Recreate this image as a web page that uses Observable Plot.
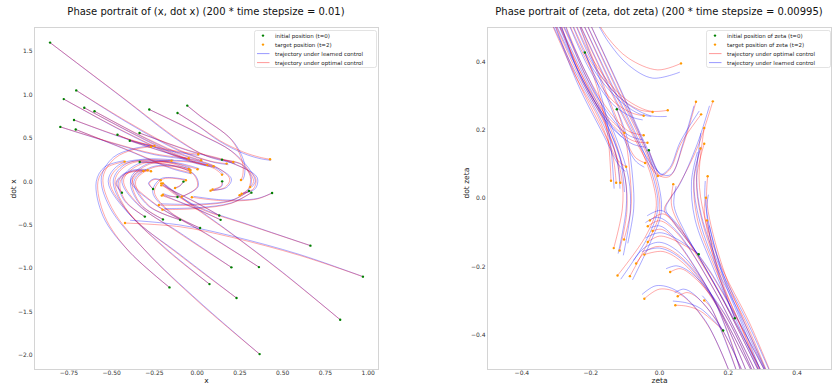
<!DOCTYPE html>
<html><head><meta charset="utf-8">
<script src="https://cdn.jsdelivr.net/npm/d3@7"></script>
<script src="https://cdn.jsdelivr.net/npm/@observablehq/plot@0.6"></script>
<style>
body{margin:0;background:#fff;font-family:"DejaVu Sans",sans-serif;}
#root{position:relative;width:832px;height:385px;overflow:hidden;background:#fff;}
.title{position:absolute;top:6px;font-size:10px;line-height:12px;color:#111;white-space:nowrap;transform:translateX(-50%);}
.chart{position:absolute;top:0;}
.legend{position:absolute;}
</style></head><body><div id="root"></div>
<script>
// ---------- left panel: (x, dot x) ----------
const leftXTicks = [-0.75,-0.5,-0.25,0,0.25,0.5,0.75,1.0];
const leftYTicks = [-2.0,-1.5,-1.0,-0.5,0.0,0.5,1.0,1.5];
const leftOptimal = [
[[-0.86,1.60],[-0.45,0.99],[-0.1,0.47],[0.05,0.30],[0.211,0.226]],
[[-0.707,1.05],[-0.4,0.68],[-0.1,0.36],[0.08,0.235],[0.172,0.207]],
[[-0.78,0.95],[-0.45,0.6],[-0.15,0.32],[0.0,0.215],[0.096,0.176]],
[[-0.66,0.85],[-0.4,0.58],[-0.15,0.34],[-0.02,0.235],[0.059,0.19]],
[[-0.60,0.81],[-0.35,0.55],[-0.12,0.34],[0.023,0.245]],
[[-0.72,0.71],[-0.45,0.52],[-0.2,0.38],[0.006,0.315]],
[[-0.80,0.63],[-0.5,0.45],[-0.25,0.32],[-0.05,0.268]],
[[-0.71,0.60],[-0.4,0.36],[-0.15,0.16],[-0.039,0.104]],
[[-0.466,0.54],[-0.37,0.465],[-0.25,0.41]],
[[-0.337,0.56],[-0.05,0.36],[0.2,0.22],[0.34,0.05],[0.33,-0.08],[0.26,-0.14]],
[[-0.394,0.47],[-0.12,0.3],[0.1,0.18],[0.19,0.03],[0.16,-0.07],[0.078,-0.104]],
[[-0.28,0.83],[0.016,0.55],[0.2,0.35],[0.3,0.13],[0.33,0.0],[0.31,-0.062]],
[[-0.115,0.79],[0.016,0.63],[0.13,0.475],[0.27,0.34],[0.367,0.28],[0.426,0.257]],
[[-0.058,0.875],[0.016,0.76],[0.2,0.48],[0.265,0.22],[0.266,0.07],[0.256,0.018]],
[[-0.336,0.226],[-0.15,0.19],[-0.02,0.08],[0.0,-0.06],[-0.09,-0.173]],
[[-0.44,-0.127],[-0.47,-0.02],[-0.42,0.09],[-0.314,0.122]],
[[-0.258,-0.085],[-0.28,-0.02],[-0.25,0.025],[-0.213,0.015]],
[[-0.08,0.0],[-0.1,-0.045],[-0.129,-0.073]],
[[0.145,0.253],[0.26,0.2],[0.31,0.06],[0.3,-0.08],[0.248,-0.156]],
[[0.146,0.003],[0.14,-0.05],[0.09,-0.09]],
[[0.303,-0.108],[0.2,-0.22],[0.0,-0.27],[-0.224,-0.27]],
[[0.317,-0.127],[0.2,-0.25],[0.0,-0.31],[-0.203,-0.323]],
[[0.438,-0.131],[0.35,-0.2],[0.15,-0.22],[-0.031,-0.18]],
[[-0.115,-0.177],[-0.16,-0.17],[-0.2,-0.15]],
[[-0.306,-0.403],[-0.42,-0.22],[-0.45,0.0],[-0.38,0.12],[-0.29,0.13]],
[[-0.2,-0.435],[-0.33,-0.26],[-0.38,0.0],[-0.33,0.11],[-0.27,0.12]],
[[-0.1,-0.44],[-0.28,-0.28],[-0.36,0.0],[-0.26,0.16],[-0.12,0.17],[-0.04,0.13]],
[[0.129,-0.39],[0.0,-0.25],[-0.15,-0.1],[-0.21,-0.043]],
[[0.137,-0.44],[0.0,-0.32],[-0.15,-0.2],[-0.207,-0.161]],
[[0.017,-0.534],[-0.15,-0.36],[-0.25,-0.12],[-0.2,0.03],[-0.066,0.015]],
[[0.662,-0.737],[0.3,-0.5],[0.016,-0.31],[-0.15,-0.12],[-0.21,-0.02]],
[[0.2,-0.987],[-0.1,-0.6],[-0.35,-0.25],[-0.43,0.02],[-0.33,0.2],[-0.13,0.21],[0.002,0.142]],
[[0.361,-0.984],[0.05,-0.6],[-0.25,-0.25],[-0.38,0.02],[-0.28,0.2],[-0.02,0.22],[0.1,0.15],[0.145,0.08]],
[[0.969,-1.094],[0.6,-0.85],[0.2,-0.64],[-0.1,-0.52],[-0.422,-0.477]],
[[0.072,-1.18],[-0.2,-0.75],[-0.42,-0.3],[-0.48,0.02],[-0.4,0.2],[-0.2,0.23],[-0.049,0.145]],
[[0.23,-1.34],[-0.1,-0.85],[-0.38,-0.4],[-0.51,0.0],[-0.45,0.18],[-0.3,0.25],[-0.15,0.24]],
[[0.836,-1.59],[0.5,-1.05],[0.2,-0.6],[-0.05,-0.25],[-0.2,-0.02]],
[[0.365,-1.986],[0.016,-1.40],[-0.3,-0.8],[-0.5,-0.3],[-0.55,0.05],[-0.48,0.27],[-0.37,0.37],[-0.27,0.40]],
[[-0.162,-1.218],[-0.4,-0.8],[-0.54,-0.4],[-0.58,0.0],[-0.53,0.16],[-0.424,0.23]]
];
const leftLearned = [
[[-0.86,1.60],[-0.45,0.985],[-0.1,0.46],[0.06,0.29],[0.22,0.21]],
[[-0.707,1.05],[-0.4,0.67],[-0.1,0.35],[0.09,0.225],[0.18,0.195]],
[[-0.78,0.95],[-0.45,0.595],[-0.15,0.31],[0.0,0.205],[0.1,0.165]],
[[-0.66,0.85],[-0.4,0.575],[-0.15,0.33],[-0.02,0.225],[0.065,0.18]],
[[-0.60,0.81],[-0.35,0.545],[-0.12,0.33],[0.03,0.235]],
[[-0.72,0.71],[-0.45,0.515],[-0.2,0.37],[0.01,0.3]],
[[-0.80,0.63],[-0.5,0.445],[-0.25,0.31],[-0.045,0.255]],
[[-0.71,0.60],[-0.4,0.355],[-0.15,0.15],[-0.035,0.09]],
[[-0.466,0.54],[-0.37,0.46],[-0.25,0.4]],
[[-0.337,0.56],[-0.05,0.355],[0.2,0.215],[0.35,0.05],[0.34,-0.08],[0.27,-0.135]],
[[-0.394,0.47],[-0.12,0.295],[0.1,0.175],[0.2,0.03],[0.17,-0.07],[0.085,-0.1]],
[[-0.28,0.83],[0.016,0.545],[0.205,0.345],[0.31,0.13],[0.34,0.0],[0.32,-0.06]],
[[-0.115,0.79],[0.016,0.625],[0.13,0.465],[0.27,0.325],[0.367,0.265],[0.43,0.245]],
[[-0.058,0.875],[0.016,0.755],[0.205,0.475],[0.275,0.22],[0.276,0.07],[0.266,0.02]],
[[-0.336,0.226],[-0.15,0.185],[-0.015,0.08],[0.005,-0.06],[-0.08,-0.165]],
[[-0.44,-0.127],[-0.475,-0.02],[-0.425,0.095],[-0.32,0.13]],
[[-0.258,-0.085],[-0.285,-0.02],[-0.255,0.03],[-0.22,0.025]],
[[-0.08,0.0],[-0.1,-0.05],[-0.135,-0.08]],
[[0.145,0.253],[0.26,0.195],[0.315,0.06],[0.305,-0.08],[0.255,-0.15]],
[[0.146,0.003],[0.145,-0.05],[0.1,-0.095]],
[[0.303,-0.108],[0.2,-0.215],[0.0,-0.26],[-0.21,-0.255]],
[[0.317,-0.127],[0.2,-0.245],[0.0,-0.3],[-0.19,-0.31]],
[[0.438,-0.131],[0.35,-0.195],[0.15,-0.21],[-0.02,-0.17]],
[[-0.115,-0.177],[-0.16,-0.165],[-0.195,-0.14]],
[[-0.306,-0.403],[-0.425,-0.22],[-0.46,0.0],[-0.39,0.125],[-0.3,0.14]],
[[-0.2,-0.435],[-0.335,-0.26],[-0.39,0.0],[-0.34,0.115],[-0.28,0.13]],
[[-0.1,-0.44],[-0.285,-0.28],[-0.37,0.0],[-0.27,0.165],[-0.12,0.18],[-0.035,0.14]],
[[0.129,-0.39],[0.0,-0.245],[-0.15,-0.095],[-0.2,-0.04]],
[[0.137,-0.44],[0.0,-0.315],[-0.15,-0.195],[-0.2,-0.155]],
[[0.017,-0.534],[-0.155,-0.36],[-0.26,-0.12],[-0.21,0.035],[-0.07,0.025]],
[[0.662,-0.737],[0.3,-0.495],[0.016,-0.3],[-0.145,-0.115],[-0.2,-0.02]],
[[0.2,-0.987],[-0.1,-0.59],[-0.355,-0.25],[-0.44,0.02],[-0.34,0.21],[-0.13,0.22],[0.01,0.15]],
[[0.361,-0.984],[0.05,-0.595],[-0.255,-0.25],[-0.39,0.02],[-0.29,0.205],[-0.02,0.23],[0.11,0.155],[0.155,0.085]],
[[0.969,-1.094],[0.6,-0.84],[0.2,-0.625],[-0.1,-0.5],[-0.39,-0.445]],
[[0.072,-1.18],[-0.2,-0.74],[-0.425,-0.3],[-0.49,0.02],[-0.41,0.21],[-0.2,0.24],[-0.04,0.155]],
[[0.23,-1.34],[-0.1,-0.84],[-0.385,-0.4],[-0.52,0.0],[-0.46,0.19],[-0.3,0.26],[-0.14,0.25]],
[[0.836,-1.59],[0.5,-1.045],[0.2,-0.595],[-0.045,-0.245],[-0.19,-0.03]],
[[0.365,-1.986],[0.016,-1.39],[-0.305,-0.79],[-0.51,-0.3],[-0.56,0.05],[-0.49,0.28],[-0.37,0.38],[-0.28,0.41]],
[[-0.162,-1.218],[-0.405,-0.79],[-0.55,-0.4],[-0.59,0.0],[-0.54,0.17],[-0.43,0.24]]
];

// ---------- right panel: (zeta, dot zeta) ----------
const rightTicks = [-0.4,-0.2,0.0,0.2,0.4];
const rightOptimal = [
[[-0.20,0.55],[-0.15,0.47],[-0.09,0.41],[-0.005,0.376],[0.0625,0.395]],
[[-0.26,0.55],[-0.19,0.40],[-0.11,0.30],[-0.03,0.256],[0.024,0.258]],
[[-0.27,0.55],[-0.2,0.40],[-0.12,0.30],[-0.06,0.26],[-0.02,0.253]],
[[-0.28,0.55],[-0.21,0.40],[-0.14,0.29],[-0.08,0.25],[-0.046,0.242]],
[[-0.29,0.55],[-0.22,0.38],[-0.15,0.26],[-0.09,0.197],[-0.046,0.185]],
[[-0.30,0.55],[-0.23,0.36],[-0.15,0.23],[-0.08,0.17],[-0.035,0.163]],
[[-0.31,0.55],[-0.23,0.37],[-0.16,0.25],[-0.102,0.192]],
[[-0.25,0.55],[-0.17,0.35],[-0.11,0.2],[-0.07,0.12],[-0.042,0.104]],
[[-0.32,0.55],[-0.24,0.35],[-0.16,0.19],[-0.12,0.11],[-0.097,0.093]],
[[-0.217,0.427],[-0.18,0.32],[-0.15,0.18],[-0.141,0.052]],
[[-0.33,0.55],[-0.25,0.37],[-0.17,0.22],[-0.135,0.12],[-0.126,0.046]],
[[-0.32,0.55],[-0.24,0.37],[-0.16,0.22],[-0.125,0.12],[-0.114,0.046]],
[[-0.31,0.55],[-0.23,0.37],[-0.15,0.2],[-0.11,0.06],[-0.108,-0.03],[-0.133,-0.145]],
[[-0.30,0.55],[-0.22,0.37],[-0.14,0.2],[-0.1,0.06],[-0.095,-0.04],[-0.116,-0.152]],
[[-0.124,0.261],[-0.1,0.18],[-0.085,0.06],[-0.083,-0.03],[-0.103,-0.12]],
[[-0.24,0.55],[-0.14,0.33],[-0.06,0.16],[-0.02,0.05],[-0.01,-0.03],[-0.04,-0.11],[-0.122,-0.225]],
[[-0.23,0.55],[-0.13,0.33],[-0.05,0.16],[-0.01,0.05],[0.0,-0.04],[-0.03,-0.12],[-0.086,-0.227]],
[[0.25,-0.55],[0.16,-0.3],[0.062,-0.171],[0.0,-0.14],[-0.04,-0.155],[-0.068,-0.19]],
[[0.27,-0.55],[0.17,-0.32],[0.07,-0.19],[0.01,-0.155],[-0.044,-0.164]],
[[0.29,-0.55],[0.19,-0.34],[0.1,-0.23],[0.06,-0.205],[0.031,-0.215]],
[[0.22,-0.55],[0.14,-0.37],[0.06,-0.28],[0.0,-0.265],[-0.044,-0.293]],
[[0.26,-0.55],[0.18,-0.38],[0.11,-0.29],[0.08,-0.275],[0.053,-0.286]],
[[0.185,-0.386],[0.12,-0.33],[0.08,-0.315],[0.046,-0.312]],
[[0.24,-0.55],[0.19,-0.41],[0.15,-0.32],[0.13,-0.298]],
[[0.31,-0.55],[0.17,-0.27],[0.06,-0.09],[0.01,-0.045],[-0.028,-0.064]],
[[0.30,-0.55],[0.16,-0.27],[0.05,-0.1],[0.0,-0.065],[-0.034,-0.081]],
[[0.29,-0.55],[0.15,-0.28],[0.04,-0.115],[0.005,-0.09],[-0.02,-0.095]],
[[0.114,-0.163],[0.05,-0.125],[0.0,-0.11],[-0.034,-0.127]],
[[-0.031,0.141],[-0.012,0.09],[0.0,0.066],[0.03,0.085],[0.0625,0.161],[0.121,0.246]],
[[-0.22,0.55],[-0.12,0.33],[-0.045,0.16],[-0.005,0.07],[0.03,0.065],[0.07,0.16],[0.106,0.283]],
[[0.33,-0.55],[0.15,-0.22],[0.04,-0.07],[0.014,-0.034],[0.03,0.0],[0.053,0.034],[0.111,0.151],[0.155,0.284]],
[[-0.25,0.55],[-0.15,0.33],[-0.07,0.17],[-0.025,0.09],[-0.005,0.066]],
[[0.32,-0.55],[0.17,-0.27],[0.07,-0.1],[0.035,-0.02],[0.04,0.042]],
[[0.34,-0.55],[0.26,-0.36],[0.18,-0.2],[0.13,-0.05],[0.115,0.06],[0.13,0.206]],
[[0.33,-0.55],[0.25,-0.36],[0.17,-0.2],[0.12,-0.05],[0.108,0.06],[0.13,0.16]],
[[0.31,-0.55],[0.23,-0.36],[0.16,-0.2],[0.11,-0.06],[0.1,0.05],[0.119,0.146]],
[[0.33,-0.55],[0.25,-0.37],[0.19,-0.22],[0.15,-0.08],[0.137,0.0],[0.14,0.065]],
[[0.219,-0.35],[0.17,-0.22],[0.14,-0.1],[0.13,-0.03],[0.135,0.002]],
[[0.30,-0.52],[0.24,-0.38],[0.188,-0.259],[0.155,-0.15],[0.138,-0.064]]
];
const rightLearned = [
[[-0.20,0.55],[-0.15,0.46],[-0.09,0.39],[-0.02,0.352],[0.058,0.369]],
[[-0.26,0.55],[-0.19,0.39],[-0.11,0.29],[-0.03,0.243],[0.02,0.24]],
[[-0.27,0.55],[-0.2,0.39],[-0.12,0.29],[-0.06,0.248],[-0.025,0.24]],
[[-0.28,0.55],[-0.21,0.39],[-0.14,0.28],[-0.08,0.238],[-0.05,0.23]],
[[-0.29,0.55],[-0.22,0.37],[-0.15,0.25],[-0.09,0.185],[-0.05,0.172]],
[[-0.30,0.55],[-0.23,0.355],[-0.15,0.22],[-0.08,0.16],[-0.04,0.15]],
[[-0.31,0.55],[-0.23,0.36],[-0.16,0.24],[-0.11,0.18]],
[[-0.25,0.55],[-0.17,0.34],[-0.11,0.19],[-0.07,0.11],[-0.045,0.092]],
[[-0.32,0.55],[-0.24,0.34],[-0.16,0.18],[-0.12,0.1],[-0.1,0.08]],
[[-0.217,0.427],[-0.175,0.32],[-0.145,0.18],[-0.132,0.03]],
[[-0.33,0.55],[-0.245,0.37],[-0.165,0.22],[-0.125,0.12],[-0.115,0.03]],
[[-0.32,0.55],[-0.235,0.37],[-0.155,0.22],[-0.115,0.12],[-0.102,0.02]],
[[-0.31,0.55],[-0.225,0.37],[-0.145,0.2],[-0.1,0.06],[-0.097,-0.03],[-0.12,-0.16]],
[[-0.30,0.55],[-0.215,0.37],[-0.135,0.2],[-0.09,0.06],[-0.085,-0.04],[-0.105,-0.165]],
[[-0.124,0.261],[-0.095,0.18],[-0.078,0.06],[-0.075,-0.03],[-0.092,-0.13]],
[[-0.24,0.55],[-0.137,0.33],[-0.056,0.16],[-0.015,0.05],[-0.005,-0.03],[-0.035,-0.115],[-0.112,-0.235]],
[[-0.23,0.55],[-0.127,0.33],[-0.046,0.16],[-0.005,0.05],[0.005,-0.04],[-0.025,-0.125],[-0.078,-0.237]],
[[0.25,-0.55],[0.155,-0.29],[0.06,-0.16],[0.0,-0.128],[-0.045,-0.145],[-0.075,-0.18]],
[[0.27,-0.55],[0.165,-0.31],[0.065,-0.178],[0.0,-0.145],[-0.05,-0.155]],
[[0.29,-0.55],[0.185,-0.33],[0.095,-0.22],[0.05,-0.197],[0.02,-0.205]],
[[0.22,-0.55],[0.135,-0.36],[0.05,-0.27],[-0.01,-0.255],[-0.05,-0.28]],
[[0.26,-0.55],[0.175,-0.37],[0.1,-0.28],[0.07,-0.265],[0.045,-0.275]],
[[0.185,-0.386],[0.12,-0.322],[0.078,-0.305],[0.04,-0.3]],
[[0.24,-0.55],[0.185,-0.4],[0.145,-0.31],[0.125,-0.285]],
[[0.31,-0.55],[0.165,-0.26],[0.055,-0.08],[0.005,-0.035],[-0.035,-0.05]],
[[0.30,-0.55],[0.155,-0.26],[0.045,-0.09],[-0.005,-0.055],[-0.04,-0.07]],
[[0.29,-0.55],[0.145,-0.27],[0.035,-0.105],[0.0,-0.08],[-0.025,-0.085]],
[[0.114,-0.163],[0.05,-0.118],[0.0,-0.1],[-0.04,-0.115]],
[[-0.031,0.141],[-0.01,0.09],[0.003,0.07],[0.03,0.09],[0.06,0.165],[0.115,0.255]],
[[-0.22,0.55],[-0.118,0.33],[-0.042,0.16],[0.0,0.075],[0.033,0.07],[0.068,0.16],[0.1,0.27]],
[[0.33,-0.55],[0.152,-0.22],[0.042,-0.07],[0.018,-0.03],[0.035,0.005],[0.058,0.04],[0.11,0.16],[0.145,0.27]],
[[-0.25,0.55],[-0.147,0.33],[-0.066,0.17],[-0.02,0.095],[0.0,0.075]],
[[0.32,-0.55],[0.172,-0.27],[0.075,-0.1],[0.042,-0.02],[0.048,0.035]],
[[0.34,-0.55],[0.255,-0.36],[0.175,-0.2],[0.122,-0.05],[0.108,0.06],[0.12,0.19]],
[[0.33,-0.55],[0.245,-0.36],[0.165,-0.2],[0.113,-0.05],[0.1,0.06],[0.12,0.15]],
[[0.31,-0.55],[0.225,-0.36],[0.155,-0.2],[0.103,-0.06],[0.093,0.05],[0.11,0.135]],
[[0.33,-0.55],[0.245,-0.37],[0.185,-0.22],[0.145,-0.08],[0.132,0.0],[0.133,0.05]],
[[0.219,-0.35],[0.172,-0.22],[0.145,-0.1],[0.137,-0.03],[0.142,0.01]],
[[0.30,-0.52],[0.245,-0.38],[0.195,-0.259],[0.162,-0.15],[0.145,-0.08]]
];

const leftTitle = "Phase portrait of (x, dot x) (200 * time stepsize = 0.01)";
const rightTitle = "Phase portrait of (zeta, dot zeta) (200 * time stepsize = 0.00995)";
const leftLegend = [
  {type:"dot", color:"green", label:"initial position (t=0)"},
  {type:"dot", color:"#ff9900", label:"target position (t=2)"},
  {type:"line", color:"rgba(0,0,255,0.45)", label:"trajectory under learned control"},
  {type:"line", color:"rgba(255,0,0,0.45)", label:"trajectory under optimal control"}
];
const rightLegend = [
  {type:"dot", color:"green", label:"initial position of zeta (t=0)"},
  {type:"dot", color:"#ff9900", label:"target position of zeta (t=2)"},
  {type:"line", color:"rgba(255,0,0,0.45)", label:"trajectory under optimal control"},
  {type:"line", color:"rgba(0,0,255,0.45)", label:"trajectory under learned control"}
];

const toRows = paths => paths.flatMap((p,i)=>p.map(([x,y])=>({x,y,id:i})));
const starts = paths => paths.map(p=>({x:p[0][0], y:p[0][1]}));
const ends = paths => paths.map(p=>({x:p[p.length-1][0], y:p[p.length-1][1]}));

function panel({optimal, learned, xDomain, yDomain, xTicks, yTicks, xFmt, yFmt, xLabel, yLabel, marginLeft, marginRight, clip, learnedFirst}) {
  const lineOpts = {x:"x", y:"y", z:"id", strokeWidth:0.8, strokeOpacity:0.42, curve:"catmull-rom", clip};
  const blue = Plot.line(toRows(learned), {...lineOpts, stroke:"blue"});
  const red = Plot.line(toRows(optimal), {...lineOpts, stroke:"red"});
  return Plot.plot({
    width:416, height:385, marginLeft, marginRight, marginTop:27, marginBottom:16,
    style:{fontFamily:"DejaVu Sans, sans-serif", fontSize:"6px", color:"#333", background:"transparent"},
    x:{domain:xDomain}, y:{domain:yDomain},
    marks:[
      Plot.frame({stroke:"#d4d4d4", strokeWidth:1}),
      Plot.axisX({ticks:xTicks, tickSize:0, tickPadding:1.5, tickFormat:xFmt, label:null, fontSize:6}),
      Plot.axisY({ticks:yTicks, tickSize:0, tickPadding:2, tickFormat:yFmt, label:null, fontSize:6}),
      ...(learnedFirst ? [blue, red] : [red, blue]),
      Plot.dot(starts(optimal), {x:"x", y:"y", r:1.2, fill:"green", clip}),
      Plot.dot(ends(optimal), {x:"x", y:"y", r:1.2, fill:"#ff9900", clip}),
      Plot.text([xLabel], {frameAnchor:"bottom", dy:11, fontSize:7.5, fill:"#222", lineAnchor:"middle"}),
      Plot.text([yLabel], {frameAnchor:"left", dx:-20.5, rotate:-90, fontSize:7.5, fill:"#222"})
    ]
  });
}

function legend(items, left, top, w, h) {
  const svg = d3.create("svg").attr("class","legend").attr("width",w).attr("height",h)
    .style("left", left+"px").style("top", top+"px");
  svg.append("rect").attr("x",0.5).attr("y",0.5).attr("width",w-1).attr("height",h-1)
    .attr("rx",2).attr("fill","white").attr("fill-opacity",0.85).attr("stroke","#dcdcdc").attr("stroke-width",0.8);
  items.forEach((d,i)=>{
    const cy = 5.6 + i*9;
    if (d.type==="dot") svg.append("circle").attr("cx",9).attr("cy",cy).attr("r",1.2).attr("fill",d.color);
    else svg.append("line").attr("x1",3).attr("x2",15.5).attr("y1",cy).attr("y2",cy).attr("stroke",d.color).attr("stroke-width",0.9);
    svg.append("text").attr("x",21).attr("y",cy).attr("dy","0.35em")
      .attr("font-family","DejaVu Sans, sans-serif").attr("font-size",5.5).attr("fill","#222").text(d.label);
  });
  return svg.node();
}

const root = document.getElementById("root");
const f2 = d3.format(".2f"), f1 = d3.format(".1f");

const left = panel({optimal:leftOptimal, learned:leftLearned, xDomain:[-0.951,1.06], yDomain:[-2.163,1.774],
  xTicks:leftXTicks, yTicks:leftYTicks, xFmt:f2, yFmt:f1, xLabel:"x", yLabel:"dot x",
  marginLeft:34, marginRight:38, clip:false, learnedFirst:true});
left.classList.add("chart"); left.style.left = "0px";
root.appendChild(left);

const right = panel({optimal:rightOptimal, learned:rightLearned, xDomain:[-0.5,0.5], yDomain:[-0.5,0.5],
  xTicks:rightTicks, yTicks:rightTicks, xFmt:f1, yFmt:f1, xLabel:"zeta", yLabel:"dot zeta",
  marginLeft:71, marginRight:1, clip:true, learnedFirst:false});
right.classList.add("chart"); right.style.left = "416px";
root.appendChild(right);

for (const [txt, cx] of [[leftTitle, 206], [rightTitle, 659]]) {
  const t = document.createElement("div"); t.className = "title"; t.style.left = cx+"px"; t.textContent = txt; root.appendChild(t);
}
root.appendChild(legend(leftLegend, 254, 30, 123, 38));
root.appendChild(legend(rightLegend, 706, 30, 125, 38));
</script></body></html>
